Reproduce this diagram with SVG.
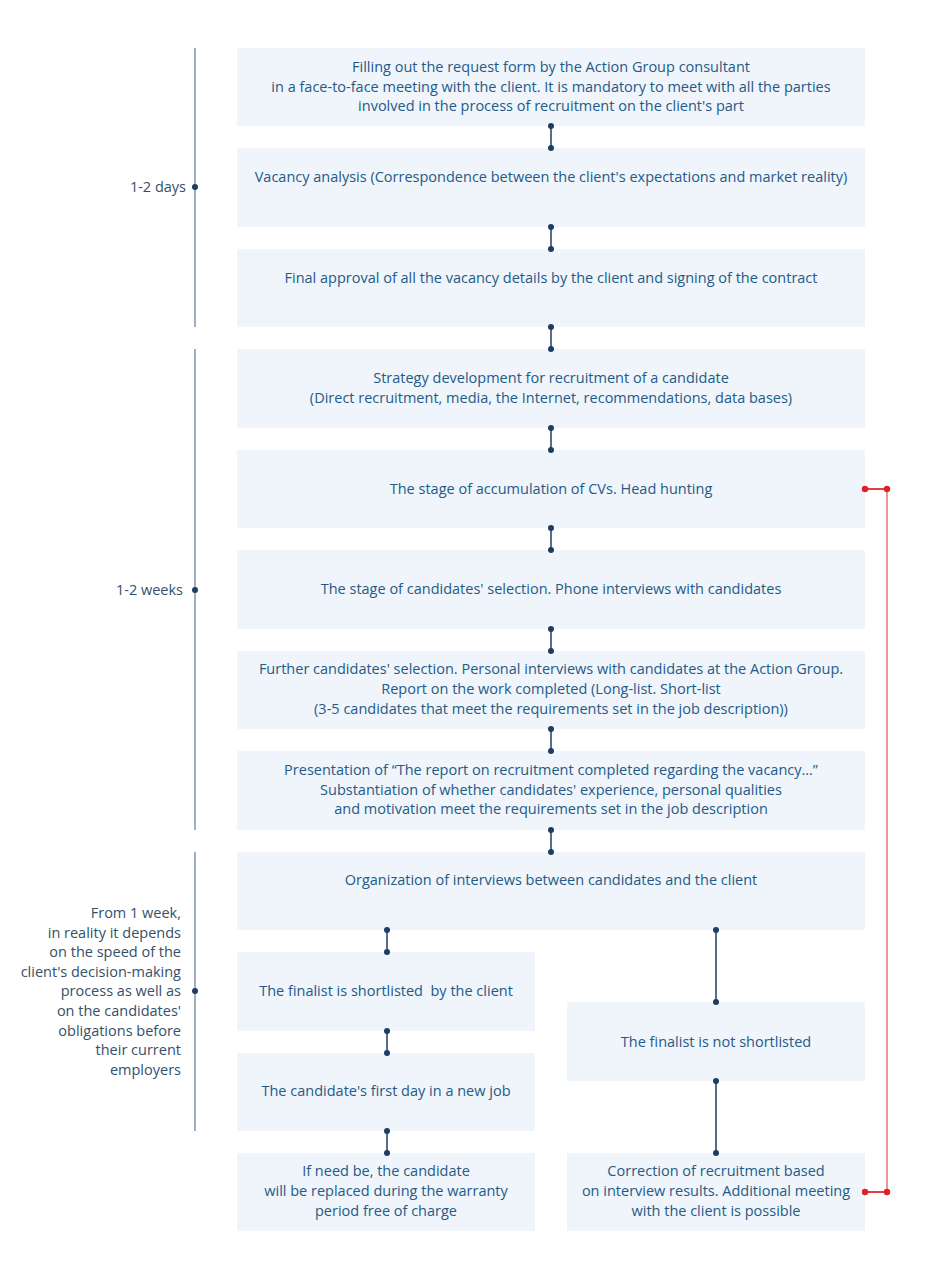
<svg xmlns="http://www.w3.org/2000/svg" width="925" height="1280" viewBox="0 0 925 1280">
<style>
.box{fill:#eff5fa}
.t{font-family:"Open Sans","Noto Sans",sans-serif;font-size:14.5px;fill:#245a88;text-anchor:middle}
.l{font-family:"Open Sans","Noto Sans",sans-serif;font-size:14.5px;fill:#34506c;text-anchor:end}
.tl{stroke:#7f95ad;stroke-width:1.5;fill:none}
.c{stroke:#1d3e62;stroke-width:1.5;fill:none}
.d{fill:#1d3e62}
.rc{stroke:#e8737a;stroke-width:1.5;fill:none}
.rd{fill:#e0202a}
</style>
<rect width="925" height="1280" fill="#ffffff"/>
<g id="timeline">
<line class="tl" x1="195" y1="48" x2="195" y2="327"/>
<line class="tl" x1="195" y1="349" x2="195" y2="830"/>
<line class="tl" x1="195" y1="852" x2="195" y2="1131"/>
<circle class="d" cx="195" cy="187" r="3"/>
<circle class="d" cx="195" cy="590" r="3"/>
<circle class="d" cx="195" cy="991" r="3"/>
<text class="l" x="186" y="192">1-2 days</text>
<text class="l" x="183" y="595">1-2 weeks</text>
<text class="l" x="181"><tspan x="181" y="918">From 1 week,</tspan><tspan x="181" y="937.6">in reality it depends</tspan><tspan x="181" y="957.2">on the speed of the</tspan><tspan x="181" y="976.8">client's decision-making</tspan><tspan x="181" y="996.4">process as well as</tspan><tspan x="181" y="1016">on the candidates'</tspan><tspan x="181" y="1035.6">obligations before</tspan><tspan x="181" y="1055.2">their current</tspan><tspan x="181" y="1074.8">employers</tspan></text>
</g>
<g id="n1"><rect class="box" x="237" y="48" width="628" height="78"/><text class="t"><tspan x="551" y="72">Filling out the request form by the Action Group consultant</tspan><tspan x="551" y="91.5">in a face-to-face meeting with the client. It is mandatory to meet with all the parties</tspan><tspan x="551" y="111">involved in the process of recruitment on the client's part</tspan></text></g>
<g id="n2"><rect class="box" x="237" y="148" width="628" height="79"/><text class="t" x="551" y="182">Vacancy analysis (Correspondence between the client's expectations and market reality)</text></g>
<g id="n3"><rect class="box" x="237" y="249" width="628" height="78"/><text class="t" x="551" y="283">Final approval of all the vacancy details by the client and signing of the contract</text></g>
<g id="n4"><rect class="box" x="237" y="349" width="628" height="79"/><text class="t"><tspan x="551" y="383">Strategy development for recruitment of a candidate</tspan><tspan x="551" y="403">(Direct recruitment, media, the Internet, recommendations, data bases)</tspan></text></g>
<g id="n5"><rect class="box" x="237" y="450" width="628" height="78"/><text class="t" x="551" y="494">The stage of accumulation of CVs. Head hunting</text></g>
<g id="n6"><rect class="box" x="237" y="550" width="628" height="79"/><text class="t" x="551" y="594">The stage of candidates' selection. Phone interviews with candidates</text></g>
<g id="n7"><rect class="box" x="237" y="651" width="628" height="78"/><text class="t"><tspan x="551" y="674">Further candidates' selection. Personal interviews with candidates at the Action Group.</tspan><tspan x="551" y="694">Report on the work completed (Long-list. Short-list</tspan><tspan x="551" y="714">(3-5 candidates that meet the requirements set in the job description))</tspan></text></g>
<g id="n8"><rect class="box" x="237" y="751" width="628" height="79"/><text class="t"><tspan x="551" y="775">Presentation of “The report on recruitment completed regarding the vacancy…”</tspan><tspan x="551" y="795">Substantiation of whether candidates' experience, personal qualities</tspan><tspan x="551" y="814">and motivation meet the requirements set in the job description</tspan></text></g>
<g id="n9"><rect class="box" x="237" y="852" width="628" height="78"/><text class="t" x="551" y="885">Organization of interviews between candidates and the client</text></g>
<g id="n10"><rect class="box" x="237" y="952" width="298" height="79"/><text class="t" x="386" y="996">The finalist is shortlisted&#160; by the client</text></g>
<g id="n11"><rect class="box" x="237" y="1053" width="298" height="78"/><text class="t" x="386" y="1096">The candidate's first day in a new job</text></g>
<g id="n12"><rect class="box" x="237" y="1153" width="298" height="78"/><text class="t"><tspan x="386" y="1176">If need be, the candidate</tspan><tspan x="386" y="1196">will be replaced during the warranty</tspan><tspan x="386" y="1216">period free of charge</tspan></text></g>
<g id="n13"><rect class="box" x="567" y="1002" width="298" height="79"/><text class="t" x="716" y="1047">The finalist is not shortlisted</text></g>
<g id="n14"><rect class="box" x="567" y="1153" width="298" height="78"/><text class="t"><tspan x="716" y="1176">Correction of recruitment based</tspan><tspan x="716" y="1196">on interview results. Additional meeting</tspan><tspan x="716" y="1216">with the client is possible</tspan></text></g>
<g id="connectors">
<g>
<line class="c" x1="551" y1="126" x2="551" y2="148"/><circle class="d" cx="551" cy="126" r="3"/><circle class="d" cx="551" cy="148" r="3"/>
<line class="c" x1="551" y1="227" x2="551" y2="249"/><circle class="d" cx="551" cy="227" r="3"/><circle class="d" cx="551" cy="249" r="3"/>
<line class="c" x1="551" y1="327" x2="551" y2="349"/><circle class="d" cx="551" cy="327" r="3"/><circle class="d" cx="551" cy="349" r="3"/>
<line class="c" x1="551" y1="428" x2="551" y2="450"/><circle class="d" cx="551" cy="428" r="3"/><circle class="d" cx="551" cy="450" r="3"/>
<line class="c" x1="551" y1="528" x2="551" y2="550"/><circle class="d" cx="551" cy="528" r="3"/><circle class="d" cx="551" cy="550" r="3"/>
<line class="c" x1="551" y1="629" x2="551" y2="651"/><circle class="d" cx="551" cy="629" r="3"/><circle class="d" cx="551" cy="651" r="3"/>
<line class="c" x1="551" y1="729" x2="551" y2="751"/><circle class="d" cx="551" cy="729" r="3"/><circle class="d" cx="551" cy="751" r="3"/>
<line class="c" x1="551" y1="830" x2="551" y2="852"/><circle class="d" cx="551" cy="830" r="3"/><circle class="d" cx="551" cy="852" r="3"/>
<line class="c" x1="387" y1="930" x2="387" y2="952"/><circle class="d" cx="387" cy="930" r="3"/><circle class="d" cx="387" cy="952" r="3"/>
<line class="c" x1="387" y1="1031" x2="387" y2="1053"/><circle class="d" cx="387" cy="1031" r="3"/><circle class="d" cx="387" cy="1053" r="3"/>
<line class="c" x1="387" y1="1131" x2="387" y2="1153"/><circle class="d" cx="387" cy="1131" r="3"/><circle class="d" cx="387" cy="1153" r="3"/>
<line class="c" x1="716" y1="930" x2="716" y2="1002"/><circle class="d" cx="716" cy="930" r="3"/><circle class="d" cx="716" cy="1002" r="3"/>
<line class="c" x1="716" y1="1081" x2="716" y2="1153"/><circle class="d" cx="716" cy="1081" r="3"/><circle class="d" cx="716" cy="1153" r="3"/>
</g>
<g>
<polyline class="rc" points="865,489 887,489 887,1192 865,1192"/>
<line x1="865" y1="489" x2="887" y2="489" stroke="#e0202a" stroke-width="1.5"/>
<line x1="865" y1="1192" x2="887" y2="1192" stroke="#e0202a" stroke-width="1.5"/>
<circle class="rd" cx="865" cy="489" r="3.2"/><circle class="rd" cx="887" cy="489" r="3.2"/>
<circle class="rd" cx="887" cy="1192" r="3.2"/><circle class="rd" cx="865" cy="1192" r="3.2"/>
</g>
</g>
</svg>
